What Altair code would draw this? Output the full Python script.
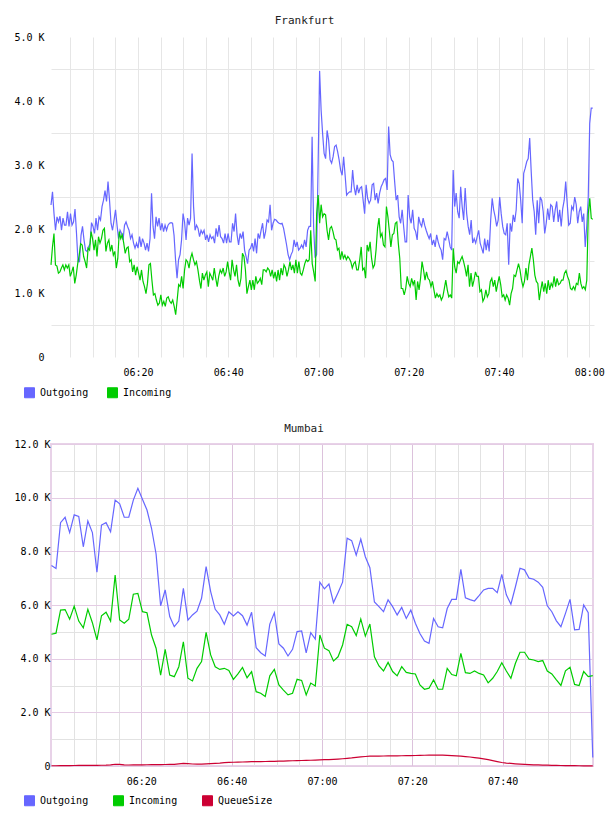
import altair as alt
import pandas as pd

MONO = "DejaVu Sans Mono"
DAY = "2024-01-01"

# ---------------- Frankfurt (20 s samples) ----------------
fra_outgoing = [
    2375, 2580, 2240, 1980, 2190, 2110, 2200, 1980, 2170, 2060,
    2060, 2270, 2040, 2240, 2060, 2110, 2310, 1930, 1490, 1490,
    1900, 2040, 1830, 1670, 1650, 1720, 1770, 2100, 2040, 1930,
    2170, 1980, 2190, 2140, 2350, 2450, 2600, 2430, 2740, 2450,
    2090, 1980, 2140, 2300, 2060, 1850, 1980, 1930, 1830, 2060,
    2110, 2040, 1980, 1850, 1910, 1780, 1700, 1780, 1700, 1880,
    1720, 1850, 1780, 1670, 1780, 1650, 1850, 2560, 2040, 1850,
    2190, 2040, 2170, 1980, 2090, 1960, 2060, 1980, 2060, 2090,
    2100, 2090, 1900, 1520, 1230, 1520, 1600, 1830, 2240, 2110,
    1830, 2170, 2060, 2170, 3180, 2350, 1980, 2060, 2010, 1880,
    1980, 1930, 1980, 1830, 1910, 1800, 1910, 1850, 1880, 1780,
    2010, 1880, 2060, 1880, 1850, 1780, 1930, 1780, 1930, 1800,
    1800, 2090, 1960, 2240, 1910, 1750, 1930, 1850, 1960, 1670,
    1570, 1460, 1670, 1700, 1780, 1650, 1850, 1620, 1930, 1850,
    1980, 2090, 1850, 1960, 2140, 2110, 2380, 1980, 2090, 2150,
    2140, 2110, 2090, 2080, 2090, 2010, 1880, 1750, 1600, 1520,
    1600, 1650, 1830, 1720, 1800, 1670,
    1700, 1750, 1700, 1830, 1720, 1980, 2040, 2040, 3440, 2040,
    1550, 1600, 3000, 4470, 3860, 3490, 3180, 3100, 3540, 3390,
    3080, 3030, 3130, 3290, 3310, 3210, 3080, 2920, 2840, 3130,
    2840, 2530, 2560, 2580, 2580, 2920, 2660, 2530, 2690, 2560,
    2640, 2660, 2450, 2240, 2690, 2480, 2400, 2450, 2690, 2710,
    2450, 2560, 2400, 2560, 2660, 2710, 2770, 2790, 2610, 3600,
    3160, 3080, 3050, 2740, 2450, 2530, 2190, 2090, 2300, 2040,
    1800, 1800, 2530, 2190, 2090, 2300, 2010, 1960, 1830, 2190,
    2090, 2040, 2170, 2060, 1980, 1910, 1850, 1930, 1750, 1830,
    1720, 1910, 1800, 1720, 1670, 1520, 1850, 1830, 1960, 1850,
    1720, 1670, 2920, 2350, 2560, 2270, 2170, 2660, 2350, 2140,
    2640, 2240, 2040, 1910, 2140, 1780, 1850, 1780, 1880, 1980,
    1780, 1700, 1620, 1850, 1670, 1830, 1650, 2140, 2480, 2300,
    2190, 2040, 2140, 2500, 2240, 2040, 1930, 1910, 2090, 1440,
    2090, 1960, 2220, 2110, 2300, 2790, 2710, 2450, 2090, 2870,
    2950, 3050, 3100, 3420, 2900, 2450, 2270, 1910, 2450, 2090,
    2500, 2450, 2270, 1930, 2090, 2320, 2140, 2380, 2350, 2110,
    2300, 2430, 2110, 2300, 2040, 2320, 2450, 2740, 2400, 2060,
    2090, 2350, 2300, 2500, 2380, 2090, 2270, 2350, 2110, 2240,
    1720, 2040, 2480, 3650, 3890, 3890,
]

fra_incoming = [
    1440, 1720, 1930, 1440, 1420, 1310, 1330, 1390, 1440, 1360,
    1440, 1390, 1440, 1260, 1330, 1410, 1150, 1280, 1460, 1590,
    1770, 1750, 1570, 1490, 1390, 1700, 1670, 1960, 1850, 1670,
    1830, 1570, 1880, 1780, 1850, 1980, 2010, 1650, 1780, 1830,
    1650, 1750, 1590, 1650, 1390, 1540, 1960, 1850, 1910, 1780,
    1620, 1700, 1720, 1490, 1520, 1330, 1440, 1280, 1410, 1310,
    1200, 1360, 1180, 1100, 990, 1150, 1440, 1460, 1200, 970,
    990, 890, 810, 840, 970, 810, 870, 790, 920, 940,
    870, 840, 890, 790, 660, 890, 1130, 1100, 1260, 1070,
    1360, 1520, 1490, 1390, 1540, 1620, 1520, 1440, 1490, 1360,
    1200, 1070, 1310, 1200, 1280, 1330, 1100, 1310, 1260, 1200,
    1390, 1230, 1100, 1260, 1360, 1310, 1390, 1260, 1330, 1490,
    1330, 1200, 1520, 1360, 1260, 1440, 1200, 1100, 1230, 1620,
    1570, 1360, 990, 1100, 1200, 1050, 1200, 1050, 1260, 1150,
    1180, 1230, 1130, 1360, 1360, 1330, 1390, 1360, 1260, 1360,
    1230, 1330, 1180, 1360, 1200, 1390, 1280, 1440, 1390, 1260,
    1360, 1490, 1360, 1440, 1310, 1520, 1310,
    1490, 1310, 1280, 1360, 1460, 1520, 1490, 1520, 1980, 1460,
    1330, 1180, 2240, 2530, 2090, 2380, 2190, 2240, 2220, 1980,
    1830, 2010, 2040, 1960, 1850, 1830, 1670, 1700, 1520, 1650,
    1540, 1590, 1520, 1570, 1540, 1490, 1390, 1460, 1490, 1360,
    1360, 1520, 1720, 1360, 1390, 1230, 1750, 1650, 1800, 1540,
    1390, 1440, 1670, 2010, 2170, 1880, 1930, 1750, 1720, 2350,
    2190, 1960, 1720, 1910, 1930, 2090, 2110, 1780, 1540, 1070,
    1070, 970, 1070, 1260, 1150, 1100, 1230, 1130, 1200, 890,
    1180, 1050, 1230, 1490, 1360, 1200, 1330, 1230, 1200, 1100,
    1180, 1050, 920, 990, 940, 970, 890, 940, 1070, 1200,
    1050, 940, 970, 920, 1700, 1410, 1310, 1490, 1460, 1520,
    1570, 1490, 1390, 1260, 1440, 1100, 1310, 1100, 1200, 1330,
    1260, 1260, 1020, 1050, 870, 920, 1050, 940, 990, 1180,
    1230, 1100, 1200, 1020, 1150, 1260, 1130, 940, 970, 890,
    970, 920, 810, 990, 1070, 1280, 1260, 1360, 1460, 1360,
    1200, 1100, 1180, 1390, 1200, 1440, 1570, 1700, 1520, 1280,
    1180, 1150, 890, 1050, 1180, 1020, 1150, 990, 1200, 1050,
    1150, 1100, 1260, 1100, 1230, 1130, 1150, 1200, 1200, 1310,
    1350, 1260, 1200, 1070, 1050, 1100, 1050, 1150, 1130, 1310,
    1150, 1070, 1100, 1050, 1200, 2240, 2480, 2170, 2150,
]

# ---------------- Mumbai (1 min samples) ----------------
mum_outgoing = [
    7470, 7360, 9070, 9270, 8700, 9360, 9300, 8170, 9130, 8700,
    7220, 8980, 9070, 8730, 9910, 9770, 9270, 9270, 9910, 10350,
    9940, 9540, 8860, 7900, 5970, 6560, 5570, 5190, 5400, 6620,
    5440, 5630, 5770, 6250, 7430, 6500, 5840, 5630, 5280, 5750,
    5590, 5750, 5600, 5250, 5730, 4410, 4220, 4100, 5290, 5710,
    4550, 4390, 4100, 4350, 5010, 5030, 4220, 4970, 4730, 6850,
    6600, 6780, 6090, 6460, 6850, 8490, 8400, 7860, 8460, 7800,
    7390, 6110, 5940, 5750, 6190, 5940, 5630, 5910, 5500, 5810,
    5320, 4940, 4660, 4570, 5500, 5190, 5150, 5870, 6210, 6210,
    7330, 6270, 6200, 6150, 6350, 6560, 6620, 6620, 6460, 7140,
    6380, 6030, 6680, 7370, 7310, 7000, 6960, 6850, 6660, 5970,
    5750, 5410, 5190, 5690, 6210, 5070, 5090, 6000, 5710, 320,
]

mum_incoming = [
    4910, 4950, 5810, 5830, 5470, 5960, 5400, 5150, 5840, 5340,
    4700, 5600, 5730, 5400, 7120, 5440, 5320, 5470, 6400, 6430,
    5750, 5710, 4880, 4390, 3390, 4350, 3390, 3330, 3700, 4630,
    3270, 3170, 3640, 3890, 4980, 4140, 3700, 3600, 3640, 3560,
    3230, 3430, 3670, 3290, 3520, 2770, 2710, 2590, 3360, 3600,
    3020, 2830, 2650, 2710, 3230, 3190, 2650, 3090, 2980, 4880,
    4390, 4300, 3910, 4070, 4510, 5280, 5190, 4860, 5480, 4840,
    5290, 4070, 3730, 3540, 3860, 3520, 3360, 3700, 3490, 3450,
    3430, 3020, 2860, 2900, 3210, 2860, 2860, 3640, 3410, 3360,
    4200, 3480, 3450, 3540, 3450, 3390, 3100, 3270, 3520, 3850,
    3540, 3270, 3830, 4240, 4240, 3980, 3950, 3890, 3930, 3540,
    3430, 3210, 3000, 3550, 3680, 3040, 3000, 3520, 3330, 3370,
]

mum_queue = [
    10, 10, 12, 14, 15, 18, 20, 20, 22, 24,
    26, 28, 30, 40, 65, 60, 40, 38, 40, 42,
    44, 46, 48, 50, 52, 55, 58, 62, 80, 100,
    90, 75, 70, 72, 80, 90, 100, 110, 125, 135,
    140, 145, 150, 155, 160, 162, 165, 168, 172, 176,
    180, 185, 190, 195, 200, 205, 210, 215, 220, 228,
    235, 240, 248, 258, 270, 285, 300, 320, 340, 355,
    365, 368, 370, 372, 375, 378, 380, 382, 385, 388,
    392, 396, 400, 404, 406, 408, 404, 398, 390, 380,
    368, 352, 335, 315, 290, 265, 235, 200, 165, 130,
    110, 95, 82, 70, 60, 52, 45, 40, 35, 30,
    26, 22, 19, 16, 14, 12, 10, 8, 6, 5,
]

SERIES = ["Outgoing", "Incoming", "QueueSize"]
COLORS = ["#6666FF", "#00CC00", "#CC0033"]


def long_frame(series, start, end):
    parts = []
    for name, vals in series.items():
        stamps = pd.date_range(f"{DAY} {start}", f"{DAY} {end}", periods=len(vals))
        parts.append(pd.DataFrame({"time": stamps, "series": name, "value": vals}))
    return pd.concat(parts, ignore_index=True)


def clock(h, m, s=0):
    return alt.DateTime(year=2024, month=1, date=1, hours=h, minutes=m, seconds=s)


def five_minute_marks(first, last):
    marks = []
    h, m = first
    while (h, m) <= last:
        marks.append(clock(h, m))
        m += 5
        if m == 60:
            h, m = h + 1, 0
    return marks


K_LABEL = ("datum.value % 1000 != 0 ? '' : (datum.value == 0 ? '0' : "
           "format(datum.value / 1000, '.1f') + ' K')")
K2_LABEL = ("datum.value % 2000 != 0 ? '' : (datum.value == 0 ? '0' : "
            "format(datum.value / 1000, '.1f') + ' K')")
TIME_LABEL = "minutes(datum.value) % 20 == 0 ? timeFormat(datum.value, '%H:%M') : ''"


def panel(df, title, names, x_domain, x_marks, x_grid, y_max, y_step, y_label,
          y_grid, y_pad, legend_y, col_pad, title_offset):
    x = alt.X("time:T", title=None,
              scale=alt.Scale(domain=x_domain, nice=False),
              axis=alt.Axis(values=x_marks, labelExpr=TIME_LABEL, ticks=False,
                            domain=False, gridColor=x_grid, gridWidth=1,
                            labelFont=MONO, labelFontSize=10, labelColor="#000000",
                            labelPadding=10, labelFlush=False, labelOverlap=False))
    y = alt.Y("value:Q", title=None,
              scale=alt.Scale(domain=[0, y_max], nice=False, zero=True),
              axis=alt.Axis(values=list(range(0, y_max + 1, y_step)),
                            labelExpr=y_label, ticks=False, domain=False,
                            gridColor=y_grid["color"], gridOpacity=y_grid["opacity"],
                            labelFont=MONO, labelFontSize=10, labelColor="#000000",
                            labelPadding=y_pad, labelOverlap=False))
    color_scale = alt.Scale(domain=names, range=COLORS[:len(names)])
    base = alt.Chart(df).encode(x=x, y=y)
    swatches = base.transform_filter("false").mark_square(
        filled=True, size=100, stroke="#999999", strokeWidth=1, opacity=1
    ).encode(color=alt.Color("series:N", scale=color_scale, legend=alt.Legend(
        title=None, orient="none", legendX=-27, legendY=legend_y,
        direction="horizontal", symbolType="square", symbolSize=100,
        symbolStrokeColor="#999999", symbolStrokeWidth=1, symbolOpacity=1,
        labelFont=MONO, labelFontSize=10, labelColor="#000000", labelOffset=5,
        columnPadding=col_pad, padding=0, rowPadding=0)))
    lines = base.mark_line(strokeWidth=1.2, interpolate="linear").encode(
        color=alt.Color("series:N", scale=color_scale, legend=None),
        detail="series:N")
    return alt.layer(swatches, lines).properties(
        title=alt.TitleParams(title, font=MONO, fontSize=11, fontWeight="normal",
                              color="#222222", anchor="middle", frame="group",
                              dx=-18, offset=title_offset))


fra_df = long_frame({"Outgoing": fra_outgoing, "Incoming": fra_incoming},
                    "06:00:43", "08:00:45")
mum_df = long_frame({"Outgoing": mum_outgoing, "Incoming": mum_incoming,
                     "QueueSize": mum_queue}, "06:00:06", "07:59:57")

frankfurt = panel(
    fra_df, "Frankfurt", SERIES[:2],
    [clock(6, 0, 43), clock(8, 1, 2)], five_minute_marks((6, 5), (8, 0)),
    "#E6E6E6", 5000, 500, K_LABEL,
    {"color": "#E6E6E6",
     "opacity": {"condition": {"test": "datum.value % 1000 == 0", "value": 0}, "value": 1}},
    7, 350, 16, 6,
).properties(width=543, height=320)

mumbai = panel(
    mum_df, "Mumbai", SERIES,
    [clock(6, 0), clock(8, 0)], five_minute_marks((6, 5), (7, 55)),
    {"condition": {"test": "minutes(datum.value) % 20 == 0", "value": "#DCC2DC"},
     "value": "#E2E2E2"},
    12000, 1000, K2_LABEL,
    {"color": {"condition": {"test": "datum.value % 2000 == 0", "value": "#E4CCE4"},
               "value": "#E2E2E2"},
     "opacity": 1},
    1, 351, 22, 5,
).properties(width=542, height=322,
             view=alt.ViewBackground(stroke="#E8D2E8", strokeWidth=2))

chart = alt.vconcat(frankfurt, mumbai, spacing=87, bounds="flush").resolve_scale(
    color="independent", x="independent", y="independent"
).resolve_legend(color="independent").properties(
    padding={"left": 12, "top": 15, "right": 0, "bottom": 0},
    background="#FFFFFF",
).configure_view(strokeWidth=0)

chart.save("out.html", embed_options={"renderer": "svg", "actions": False})
